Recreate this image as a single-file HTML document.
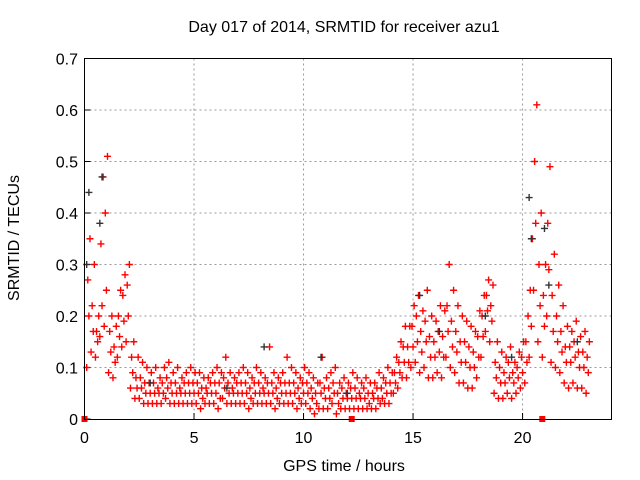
<!DOCTYPE html>
<html><head><meta charset="utf-8"><style>
body{margin:0;background:#fff}
svg{display:block;font-family:"Liberation Sans",sans-serif}
</style></head><body>
<svg id="c" width="640" height="480">
<rect width="640" height="480" fill="#fff"/>
<text x="344" y="32" font-size="16" text-anchor="middle">Day 017 of 2014, SRMTID for receiver azu1</text>
<text x="344" y="471" font-size="16" text-anchor="middle">GPS time / hours</text>
<text transform="translate(19,238) rotate(-90)" font-size="16" text-anchor="middle">SRMTID / TECUs</text>
<g id="grid"></g><g id="marks"></g>
<rect x="84.5" y="58.5" width="527" height="361" fill="none" stroke="#000"/>
</svg>
<script>
const xTicks=[0,5,10,15,20];
const yTicks=[0,0.1,0.2,0.3,0.4,0.5,0.6,0.7];
const yTickLabels=["0","0.1","0.2","0.3","0.4","0.5","0.6","0.7"];
const binStart=0.1, binStep=0.2;
const redLow=[.10,.13,.12,.16,.18,.09,.08,.12,.14,.15,.06,
.04,.04,.03,.03,.03,.03,.03,.04,.03,.03,.03,.03,.03,.03,
.03,.02,.03,.03,.03,.02,.04,.03,.03,.03,.03,.03,.02,.03,.03,.03,.03,.03,.02,.03,.03,.03,.03,.02,.03,.03,
.02,.01,.02,.02,.02,.03,.01,.02,.02,.02,.02,
.02,.02,.02,.02,.02,.03,.03,.03,
.05,.06,.08,.08,
.10,.11,.09,.10,.08,.08,
.09,.08,.12,.10,.09,.07,.07,.06,.06,.08,
.12,.17,.15,
.05,.04,.04,.05,.04,.05,.06,
.07,.12,.25,
.15,.12,.20,
.11,.10,.09,.07,.06,.07,.06,.06,.05];
const redMidLow=[.20,.17,.15,.22,.25,.13,.11,.16,.19,.20,.09,
.06,.06,.05,.05,.05,.05,.05,.06,.05,.05,.05,.05,.05,.05,
.05,.04,.05,.05,.05,.04,.06,.05,.05,.05,.05,.05,.04,.05,.05,.05,.05,.05,.04,.05,.05,.05,.05,.04,.05,.05,
.04,.03,.05,.04,.04,.05,.03,.04,.04,.04,.04,
.04,.04,.03,.04,.04,.04,.05,.05,
.07,.09,.11,.11,
.14,.15,.13,.15,.12,.12,
.13,.12,.17,.14,.13,.11,.11,.10,.10,.12,
.16,.21,.19,
.08,.07,.07,.08,.07,.08,.09,
.11,.18,.38,
.22,.18,.29,
.17,.15,.13,.11,.11,.12,.10,.10,.09];
const redMidHigh=[.27,.22,.17,.34,.40,.17,.14,.20,.24,.26,.12,
.08,.08,.07,.07,.07,.06,.07,.08,.07,.07,.06,.07,.07,.07,
.07,.06,.06,.07,.07,.07,.08,.07,.06,.07,.07,.07,.06,.07,.07,.06,.07,.07,.06,.07,.07,.07,.07,.06,.07,.07,
.06,.05,.07,.06,.06,.07,.05,.06,.05,.06,.06,
.05,.06,.05,.05,.06,.06,.07,.07,
.09,.11,.14,.14,
.18,.20,.17,.19,.16,.15,
.17,.16,.22,.19,.17,.15,.15,.14,.13,.16,
.20,.24,.22,
.11,.10,.09,.11,.09,.10,.12,
.15,.25,.50,
.30,.24,.38,
.24,.20,.17,.14,.14,.15,.13,.13,.12];
const redHigh=[.35,.30,.20,.47,.51,.20,.18,.25,.28,.30,.15,
.12,.11,.10,.09,.10,.08,.10,.11,.09,.10,.08,.09,.10,.09,
.09,.08,.08,.09,.10,.09,.12,.09,.08,.09,.10,.09,.08,.10,.09,.08,.14,.09,.08,.09,.12,.10,.09,.08,.10,.09,
.08,.07,.12,.08,.09,.10,.07,.08,.07,.09,.08,
.07,.08,.07,.07,.09,.08,.10,.09,
.12,.15,.18,.18,
.22,.24,.21,.25,.20,.19,
.22,.21,.30,.25,.22,.20,.19,.18,.17,.21,
.24,.27,.26,
.15,.13,.12,.14,.11,.13,.15,
.20,.35,.61,
.40,.30,.49,
.32,.26,.22,.18,.17,.19,.16,.17,.15];
const blackT=[0.1,0.2,0.7,0.8,8.2,10.8,15.3,20.3,20.4,21.0,21.2,18.3,22.5,3.0,6.5,12.0,16.2,19.5];
const blackV=[0.30,0.44,0.38,0.47,0.14,0.12,0.24,0.43,0.35,0.37,0.26,0.20,0.15,0.07,0.06,0.05,0.17,0.12];
const squareT=[0,12.2,20.9];
const squareV=[0,0,0];

const X0=84.5,X1=611.5,Y0=419,Y1=58.5,XMAX=24.06,YMAX=0.7;
const sx=v=>X0+(X1-X0)*v/XMAX, sy=v=>Y0-(Y0-Y1)*v/YMAX;
const NS="http://www.w3.org/2000/svg";
const grid=document.getElementById('grid'), marks=document.getElementById('marks');
function mk(tag,a,p){const e=document.createElementNS(NS,tag);for(const k in a)e.setAttribute(k,a[k]);p.appendChild(e);return e;}
xTicks.forEach(t=>{
 const x=sx(t);
 if(t>0){const g=mk('line',{x1:x,x2:x,y1:Y1,y2:Y0,stroke:'#999','stroke-dasharray':'2,3'},grid);
 
 }
 mk('line',{x1:x,x2:x,y1:Y0,y2:Y0-6,stroke:'#000'},grid);
 const l=mk('text',{x:x,y:443,'font-size':16,'text-anchor':'middle'},grid);l.textContent=t;
 
 
});
yTicks.forEach((t,i)=>{
 const y=sy(t);
 if(t>0&&t<0.7){const g=mk('line',{x1:X0,x2:X1,y1:y,y2:y,stroke:'#999','stroke-dasharray':'2,3'},grid);
 
 }
 mk('line',{x1:X0,x2:X0+6,y1:y,y2:y,stroke:'#000'},grid);
 const l=mk('text',{x:78,y:y+6,'font-size':16,'text-anchor':'end'},grid);l.textContent=yTickLabels[i];
 
 
});
function plus(t,v,col){
 const x=sx(t),y=sy(v);
 return mk('path',{d:`M${x-3.5},${y}h7M${x},${y-3.5}v7`,stroke:col,'stroke-width':1.4,fill:'none'},marks);
}
const series=[redLow,redMidLow,redMidHigh,redHigh];
const offs=[0,0.1,0.05,0.15];
series.forEach((arr,si)=>{
 arr.forEach((v,i)=>{
  const t=binStart+i*binStep+offs[si];
  const p=plus(t,v,'#f00');
  
  
 });
});
blackT.forEach((t,i)=>{
 const p=plus(t,blackV[i],'#333');
 
 
});
squareT.forEach((t,i)=>{
 const r=mk('rect',{x:sx(t)-3,y:sy(squareV[i])-3,width:6,height:6,fill:'#f00'},marks);
 
 
});
</script>
</body></html>
